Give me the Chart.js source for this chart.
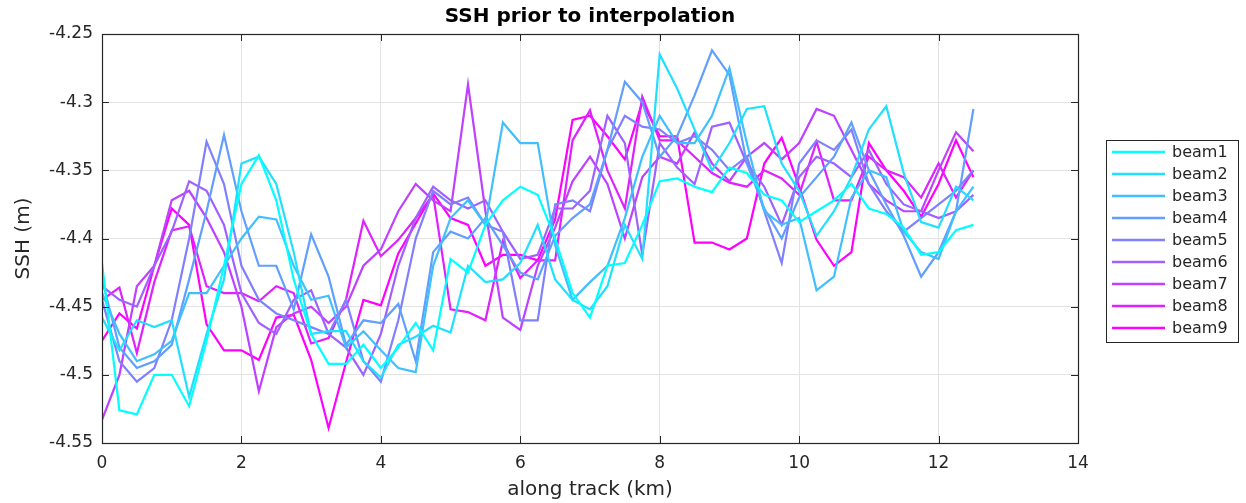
<!DOCTYPE html>
<html>
<head>
<meta charset="utf-8">
<title>SSH prior to interpolation</title>
<script src="https://cdn.jsdelivr.net/npm/chart.js@4/dist/chart.umd.min.js"></script>
<style>
  html, body { margin: 0; padding: 0; background: #ffffff; }
  #wrap { width: 1246px; height: 503px; }
</style>
</head>
<body>
<div id="wrap"><canvas id="c" width="1246" height="503"></canvas></div>
<script>
// Along-track distance of each sample (km)
const distanceKm = [0, 0.25, 0.5, 0.75, 1, 1.25, 1.5, 1.75, 2, 2.25, 2.5, 2.75,
  3, 3.25, 3.5, 3.75, 4, 4.25, 4.5, 4.75, 5, 5.25, 5.5, 5.75, 6, 6.25, 6.5, 6.75,
  7, 7.25, 7.5, 7.75, 8, 8.25, 8.5, 8.75, 9, 9.25, 9.5, 9.75, 10, 10.25, 10.5, 10.75,
  11, 11.25, 11.5, 11.75, 12, 12.25, 12.5];

// Sea surface height per beam (m)
const beam1 = [-4.418, -4.526, -4.529, -4.500, -4.500, -4.523, -4.475, -4.420, -4.360, -4.339, -4.372, -4.430,
  -4.470, -4.492, -4.492, -4.478, -4.495, -4.480, -4.462, -4.482,
  -4.415, -4.425, -4.390, -4.372, -4.362, -4.368, -4.400, -4.440,
  -4.458, -4.420, -4.418, -4.390, -4.358, -4.356, -4.362, -4.366,
  -4.348, -4.352, -4.368, -4.372, -4.388, -4.380, -4.372, -4.360,
  -4.378, -4.382, -4.392, -4.412, -4.410, -4.394, -4.390];
const beam2 = [-4.458, -4.482, -4.460, -4.465, -4.460, -4.516, -4.470, -4.430, -4.345, -4.340, -4.360, -4.410,
  -4.470, -4.468, -4.468, -4.490, -4.502, -4.478, -4.472, -4.464,
  -4.469, -4.420, -4.432, -4.430, -4.418, -4.390, -4.430, -4.445,
  -4.452, -4.435, -4.390, -4.415, -4.265, -4.290, -4.320, -4.350,
  -4.330, -4.305, -4.303, -4.345, -4.365, -4.398, -4.380, -4.355,
  -4.320, -4.303, -4.352, -4.388, -4.392, -4.362, -4.372];
const beam3 = [-4.440, -4.470, -4.490, -4.485, -4.475, -4.440, -4.440, -4.420, -4.400, -4.384, -4.386, -4.420,
  -4.445, -4.442, -4.480, -4.468, -4.482, -4.495, -4.498, -4.420,
  -4.385, -4.372, -4.390, -4.315, -4.330, -4.330, -4.405, -4.445,
  -4.432, -4.420, -4.385, -4.340, -4.310, -4.330, -4.330, -4.310,
  -4.275, -4.330, -4.380, -4.390, -4.385, -4.438, -4.428, -4.370,
  -4.350, -4.355, -4.395, -4.410, -4.415, -4.380, -4.362];
const beam4 = [-4.430, -4.480, -4.495, -4.490, -4.478, -4.430, -4.380, -4.324, -4.380, -4.420, -4.420, -4.452,
  -4.397, -4.428, -4.478, -4.460, -4.462, -4.448, -4.490, -4.410,
  -4.395, -4.400, -4.385, -4.405, -4.425, -4.430, -4.398, -4.385,
  -4.375, -4.335, -4.285, -4.300, -4.340, -4.325, -4.295, -4.262,
  -4.280, -4.345, -4.378, -4.400, -4.370, -4.355, -4.340, -4.315,
  -4.350, -4.375, -4.398, -4.428, -4.410, -4.380, -4.305];
const beam5 = [-4.445, -4.490, -4.505, -4.495, -4.460, -4.400, -4.329, -4.360, -4.420, -4.445, -4.455, -4.460,
  -4.465, -4.470, -4.445, -4.490, -4.505, -4.460, -4.400, -4.365,
  -4.375, -4.370, -4.390, -4.395, -4.460, -4.460, -4.375, -4.372,
  -4.380, -4.335, -4.310, -4.318, -4.320, -4.330, -4.325, -4.335,
  -4.350, -4.340, -4.380, -4.418, -4.345, -4.328, -4.335, -4.320,
  -4.360, -4.380, -4.395, -4.385, -4.375, -4.365, -4.350];
const beam6 = [-4.435, -4.445, -4.450, -4.420, -4.395, -4.358, -4.365, -4.390, -4.440, -4.462, -4.470, -4.445,
  -4.438, -4.470, -4.480, -4.500, -4.470, -4.420, -4.385, -4.362,
  -4.372, -4.378, -4.372, -4.395, -4.415, -4.412, -4.378, -4.378,
  -4.365, -4.310, -4.330, -4.412, -4.330, -4.348, -4.360, -4.318,
  -4.315, -4.345, -4.362, -4.390, -4.355, -4.340, -4.345, -4.355,
  -4.335, -4.360, -4.375, -4.380, -4.385, -4.380, -4.368];
const beam7 = [-4.533, -4.500, -4.435, -4.420, -4.372, -4.365, -4.385, -4.410, -4.450, -4.512, -4.465, -4.455,
  -4.450, -4.462, -4.450, -4.420, -4.408, -4.380, -4.360, -4.372,
  -4.380, -4.287, -4.380, -4.458, -4.467, -4.420, -4.392, -4.358,
  -4.340, -4.360, -4.400, -4.355, -4.340, -4.345, -4.322, -4.345,
  -4.358, -4.340, -4.330, -4.342, -4.330, -4.305, -4.310, -4.335,
  -4.360, -4.372, -4.380, -4.380, -4.350, -4.322, -4.336];
const beam8 = [-4.445, -4.436, -4.484, -4.432, -4.394, -4.391, -4.435, -4.440, -4.440, -4.446, -4.435, -4.440,
  -4.477, -4.473, -4.445, -4.387, -4.413, -4.401, -4.385, -4.368,
  -4.452, -4.454, -4.460, -4.402, -4.429, -4.416, -4.416, -4.328,
  -4.306, -4.350, -4.378, -4.296, -4.328, -4.328, -4.340, -4.352,
  -4.359, -4.362, -4.350, -4.356, -4.368, -4.329, -4.372, -4.372,
  -4.340, -4.350, -4.355, -4.370, -4.345, -4.370, -4.350];
const beam9 = [-4.475, -4.455, -4.466, -4.420, -4.378, -4.390, -4.463, -4.482, -4.482, -4.489, -4.458, -4.456,
  -4.489, -4.539, -4.491, -4.445, -4.449, -4.411, -4.389, -4.367,
  -4.385, -4.390, -4.420, -4.412, -4.412, -4.416, -4.386, -4.313,
  -4.310, -4.325, -4.342, -4.300, -4.325, -4.325, -4.403, -4.403,
  -4.408, -4.400, -4.345, -4.326, -4.362, -4.401, -4.420, -4.410,
  -4.330, -4.350, -4.365, -4.384, -4.360, -4.328, -4.355];

const beamNames = ['beam1', 'beam2', 'beam3', 'beam4', 'beam5', 'beam6', 'beam7', 'beam8', 'beam9'];
const beamValues = [beam1, beam2, beam3, beam4, beam5, beam6, beam7, beam8, beam9];
// "cool" colour ramp, cyan through magenta
const beamColors = ['#00ffff', '#20dfff', '#40bfff', '#609fff', '#8080ff', '#9f60ff', '#bf40ff', '#df20ff', '#ff00ff'];

// Axis ticks
const xTicks = [0, 2, 4, 6, 8, 10, 12, 14];
const xTickLabels = ['0', '2', '4', '6', '8', '10', '12', '14'];
const yTicks = [-4.55, -4.5, -4.45, -4.4, -4.35, -4.3, -4.25];
const yTickLabels = ['-4.55', '-4.5', '-4.45', '-4.4', '-4.35', '-4.3', '-4.25'];

const titleText = 'SSH prior to interpolation';
const xTitle = 'along track (km)';
const yTitle = 'SSH (m)';

const FONT = '"DejaVu Sans", "Liberation Sans", sans-serif';
const INK = '#262626';

const datasets = beamNames.map((name, i) => ({
  label: name,
  data: distanceKm.map((x, j) => ({ x: x, y: beamValues[i][j] })),
  borderColor: beamColors[i],
  backgroundColor: beamColors[i],
  borderWidth: 2.2,
  pointRadius: 0,
  tension: 0,
  fill: false
}));

// Box, inward tick marks, title, axis titles and legend
const frame = {
  id: 'frame',
  afterDraw(chart) {
    const ctx = chart.ctx;
    const a = chart.chartArea;
    const xs = chart.scales.x, ys = chart.scales.y;
    ctx.save();
    ctx.strokeStyle = INK;
    ctx.lineWidth = 1;
    ctx.beginPath();
    const tl = 7;
    xTicks.forEach(v => {
      const px = Math.round(xs.getPixelForValue(v)) + 0.5;
      ctx.moveTo(px, a.bottom); ctx.lineTo(px, a.bottom - tl);
      ctx.moveTo(px, a.top); ctx.lineTo(px, a.top + tl);
    });
    yTicks.forEach(v => {
      const py = Math.round(ys.getPixelForValue(v)) + 0.5;
      ctx.moveTo(a.left, py); ctx.lineTo(a.left + tl, py);
      ctx.moveTo(a.right, py); ctx.lineTo(a.right - tl, py);
    });
    ctx.stroke();
    ctx.lineWidth = 1.2;
    ctx.strokeRect(Math.round(a.left) + 0.5, Math.round(a.top) + 0.5,
      Math.round(a.right - a.left), Math.round(a.bottom - a.top));

    // title
    ctx.fillStyle = '#000000';
    ctx.font = 'bold 20px ' + FONT;
    ctx.textAlign = 'center';
    ctx.textBaseline = 'middle';
    ctx.fillText(titleText, (a.left + a.right) / 2, 17);

    // axis titles
    ctx.fillStyle = INK;
    ctx.font = '20px ' + FONT;
    ctx.fillText(xTitle, (a.left + a.right) / 2, 490);
    ctx.save();
    ctx.translate(24, (a.top + a.bottom) / 2);
    ctx.rotate(-Math.PI / 2);
    ctx.fillText(yTitle, 0, 0);
    ctx.restore();

    // legend
    const lx = 1106, ly = 140, lw = 132, lh = 202;
    ctx.fillStyle = '#ffffff';
    ctx.fillRect(lx, ly, lw, lh);
    ctx.strokeStyle = INK;
    ctx.lineWidth = 1;
    ctx.strokeRect(lx + 0.5, ly + 0.5, lw, lh);
    ctx.font = '16px ' + FONT;
    ctx.textAlign = 'left';
    ctx.textBaseline = 'middle';
    chart.data.datasets.forEach((ds, i) => {
      const y = ly + 12 + i * 22;
      ctx.strokeStyle = ds.borderColor;
      ctx.lineWidth = 2.5;
      ctx.beginPath();
      ctx.moveTo(lx + 6, y);
      ctx.lineTo(lx + 59, y);
      ctx.stroke();
      ctx.fillStyle = INK;
      ctx.fillText(ds.label, lx + 66, y + 1);
    });
    ctx.restore();
  }
};

new Chart(document.getElementById('c'), {
  type: 'line',
  data: { datasets: datasets },
  options: {
    responsive: false,
    animation: false,
    devicePixelRatio: 1,
    layout: { padding: { top: 34, right: 168, left: 0, bottom: 0 } },
    plugins: {
      legend: { display: false },
      title: { display: false },
      tooltip: { enabled: false }
    },
    scales: {
      x: {
        type: 'linear',
        min: 0, max: 14,
        afterFit(s) { s.height = 60; },
        afterBuildTicks(s) { s.ticks = xTicks.map(v => ({ value: v })); },
        grid: { color: '#e3e3e3', lineWidth: 1, drawTicks: false },
        border: { display: false },
        ticks: {
          autoSkip: false, maxRotation: 0, padding: 10,
          color: INK, font: { family: FONT, size: 17 },
          callback: (v, i) => xTickLabels[i]
        }
      },
      y: {
        type: 'linear',
        min: -4.55, max: -4.25,
        afterFit(s) { s.width = 102; },
        afterBuildTicks(s) { s.ticks = yTicks.map(v => ({ value: v })); },
        grid: { color: '#e3e3e3', lineWidth: 1, drawTicks: false },
        border: { display: false },
        ticks: {
          autoSkip: false, padding: 9,
          color: INK, font: { family: FONT, size: 17 },
          callback: (v, i) => yTickLabels[i]
        }
      }
    }
  },
  plugins: [frame]
});
</script>
</body>
</html>
